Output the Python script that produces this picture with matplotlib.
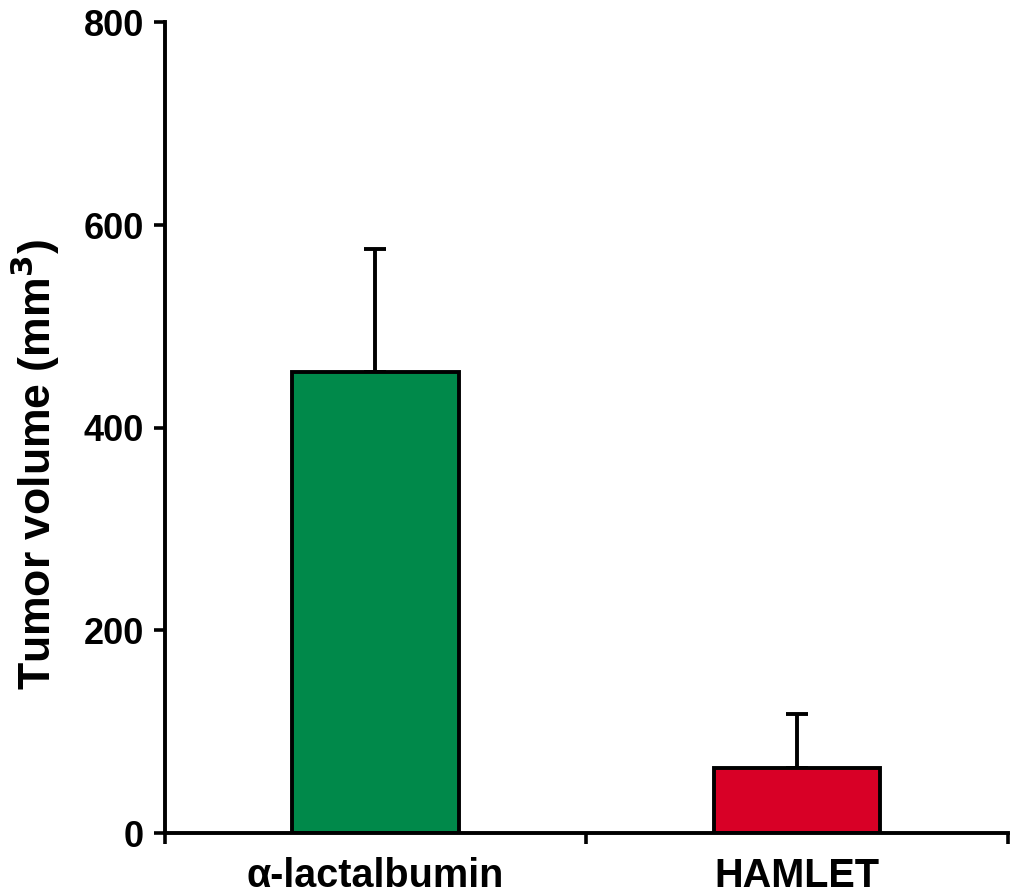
import matplotlib.pyplot as plt
import numpy as np

groups = ["α-lactalbumin", "HAMLET"]
volume = [455, 64]
volume_err = [121, 54]
colors = ["#00894a", "#d80026"]

plt.rcParams['font.family'] = ['Liberation Sans', 'DejaVu Sans']
plt.rcParams['font.weight'] = 'bold'

fig = plt.figure(figsize=(10.1, 8.93), dpi=100)
ax = fig.add_axes([0.163, 0.067, 0.835, 0.908])

x = np.arange(len(groups))
ax.bar(x, volume, width=0.395, color=colors, edgecolor='black', linewidth=2.8, zorder=2)
ax.errorbar(x, volume, yerr=[np.zeros(len(volume)), volume_err], fmt='none',
            ecolor='black', elinewidth=2.8, capsize=8, capthick=2.8, zorder=1)

ax.set_xlim(-0.5, 1.5)
ax.set_ylim(0, 800)
ax.set_yticks([0, 200, 400, 600, 800])
ax.set_xticks([-0.5, 0.5, 1.5])
ax.set_xticklabels([])
ax.set_xticks(x, minor=True)
ax.set_xticklabels(groups, minor=True, fontsize=28.5, fontweight='bold')
ax.tick_params(axis='x', which='minor', length=0, pad=17)
ax.tick_params(axis='x', which='major', direction='out', length=8, width=2.6)
ax.tick_params(axis='y', direction='out', length=8, width=2.6, labelsize=26, pad=7)

for side in ['top', 'right']:
    ax.spines[side].set_visible(False)
for side in ['left', 'bottom']:
    ax.spines[side].set_linewidth(2.8)

ax.set_ylabel('Tumor volume (mm$^\\mathbf{3}$)', fontsize=32, fontweight='bold')
ax.yaxis.set_label_coords(-0.122, 0.455)

fig.savefig('out.png', dpi=100)
